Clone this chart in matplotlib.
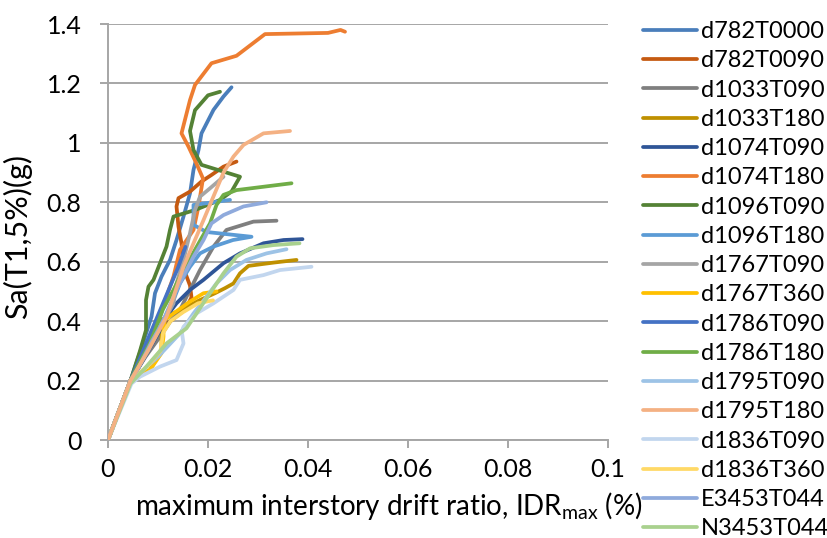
import matplotlib
matplotlib.use("Agg")
import matplotlib.pyplot as plt

plt.rcParams['font.family'] = ['Lato', 'DejaVu Sans']
plt.rcParams['mathtext.fontset'] = 'custom'
plt.rcParams['mathtext.rm'] = 'Lato'
plt.rcParams['mathtext.it'] = 'Lato'

# IDR_max (x) vs Sa(T1,5%) (y) for each record
d782T0000_x = [0, 0.0045, 0.0065, 0.0087, 0.0094, 0.0107, 0.0124, 0.0137, 0.0151, 0.0164, 0.0171, 0.0181, 0.0187, 0.0211, 0.0231, 0.0247]
d782T0000_y = [0, 0.20, 0.30, 0.415, 0.494, 0.55, 0.606, 0.673, 0.752, 0.830, 0.909, 0.976, 1.032, 1.111, 1.156, 1.187]

d782T0090_x = [0, 0.0045, 0.0075, 0.0104, 0.0125, 0.0155, 0.0167, 0.0164, 0.0155, 0.0151, 0.0147, 0.0141, 0.0137, 0.0141, 0.0164, 0.0187, 0.0207, 0.0231, 0.0257]
d782T0090_y = [0, 0.20, 0.30, 0.376, 0.40, 0.44, 0.48, 0.52, 0.56, 0.595, 0.662, 0.718, 0.786, 0.814, 0.836, 0.87, 0.892, 0.920, 0.937]

d1033T090_x = [0, 0.0045, 0.0075, 0.0105, 0.0125, 0.0144, 0.0164, 0.0184, 0.0211, 0.0237, 0.0291, 0.0337]
d1033T090_y = [0, 0.20, 0.28, 0.35, 0.40, 0.438, 0.505, 0.572, 0.651, 0.707, 0.735, 0.738]

d1033T180_x = [0, 0.0045, 0.0084, 0.0107, 0.0107, 0.0124, 0.0151, 0.0184, 0.0214, 0.0234, 0.0251, 0.0264, 0.0281, 0.0331, 0.0377]
d1033T180_y = [0, 0.20, 0.236, 0.303, 0.404, 0.421, 0.443, 0.471, 0.494, 0.511, 0.527, 0.561, 0.586, 0.597, 0.606]

d1074T090_x = [0, 0.0045, 0.006, 0.0097, 0.0127, 0.0137, 0.0164, 0.0191, 0.0231, 0.0264, 0.0311, 0.0351, 0.0389]
d1074T090_y = [0, 0.20, 0.24, 0.348, 0.438, 0.46, 0.505, 0.539, 0.595, 0.628, 0.662, 0.673, 0.676]

d1074T180_x = [0, 0.0045, 0.0065, 0.0085, 0.0104, 0.0117, 0.0131, 0.0144, 0.0171, 0.0181, 0.0190, 0.0177, 0.0161, 0.0147, 0.0164, 0.0174, 0.0207, 0.0257, 0.0314, 0.044, 0.0465, 0.0474]
d1074T180_y = [0, 0.20, 0.28, 0.35, 0.415, 0.482, 0.55, 0.64, 0.707, 0.786, 0.88, 0.93, 0.987, 1.032, 1.144, 1.195, 1.268, 1.293, 1.366, 1.370, 1.380, 1.374]

d1096T090_x = [0, 0.0045, 0.0064, 0.0076, 0.0076, 0.0081, 0.0091, 0.0104, 0.0117, 0.0124, 0.0131, 0.0174, 0.0224, 0.0247, 0.0264, 0.0187, 0.0171, 0.0164, 0.0174, 0.0200, 0.0224]
d1096T090_y = [0, 0.20, 0.30, 0.37, 0.471, 0.516, 0.539, 0.595, 0.651, 0.707, 0.752, 0.774, 0.808, 0.836, 0.886, 0.926, 0.976, 1.04, 1.11, 1.16, 1.172]

d1096T180_x = [0, 0.0045, 0.0080, 0.0131, 0.0144, 0.0164, 0.0184, 0.0211, 0.0250, 0.0287, 0.0197, 0.0171, 0.0171, 0.0244]
d1096T180_y = [0, 0.20, 0.30, 0.471, 0.527, 0.583, 0.628, 0.651, 0.673, 0.684, 0.70, 0.724, 0.791, 0.808]

d1767T090_x = [0, 0.0045, 0.0085, 0.0115, 0.0131, 0.0137, 0.0151, 0.0164, 0.0174, 0.0184, 0.0204, 0.0231]
d1767T090_y = [0, 0.20, 0.32, 0.41, 0.46, 0.527, 0.606, 0.696, 0.774, 0.819, 0.847, 0.886]

d1767T360_x = [0, 0.0045, 0.0084, 0.0107, 0.0111, 0.0111, 0.0114, 0.0131, 0.0164, 0.0191, 0.0217]
d1767T360_y = [0, 0.20, 0.236, 0.292, 0.348, 0.37, 0.404, 0.426, 0.466, 0.494, 0.50]

d1786T090_x = [0, 0.0045, 0.0075, 0.0100, 0.0120, 0.0140, 0.0155]
d1786T090_y = [0, 0.20, 0.32, 0.42, 0.50, 0.58, 0.65]

d1786T180_x = [0, 0.0045, 0.006, 0.0085, 0.011, 0.0131, 0.0144, 0.0174, 0.0187, 0.0204, 0.0217, 0.0231, 0.0257, 0.0367]
d1786T180_y = [0, 0.20, 0.25, 0.33, 0.44, 0.505, 0.55, 0.640, 0.679, 0.729, 0.791, 0.825, 0.841, 0.864]

d1795T090_x = [0, 0.0045, 0.006, 0.010, 0.0144, 0.0171, 0.0197, 0.0217, 0.0244, 0.0277, 0.0317, 0.0357]
d1795T090_y = [0, 0.20, 0.22, 0.28, 0.359, 0.426, 0.482, 0.527, 0.572, 0.606, 0.628, 0.642]

d1795T180_x = [0, 0.0045, 0.008, 0.0117, 0.0131, 0.0151, 0.0171, 0.0191, 0.0211, 0.0231, 0.0251, 0.0271, 0.0311, 0.0364]
d1795T180_y = [0, 0.20, 0.30, 0.415, 0.482, 0.583, 0.662, 0.74, 0.82, 0.90, 0.954, 0.993, 1.032, 1.040]

d1836T090_x = [0, 0.0047, 0.0064, 0.0104, 0.0137, 0.0151, 0.0148, 0.0151, 0.0177, 0.0211, 0.0251, 0.0264, 0.0311, 0.0344, 0.0407]
d1836T090_y = [0, 0.19, 0.213, 0.247, 0.269, 0.325, 0.36, 0.381, 0.426, 0.46, 0.505, 0.539, 0.555, 0.572, 0.583]

d1836T360_x = [0, 0.0045, 0.008, 0.0105, 0.011, 0.0125, 0.015, 0.018, 0.021]
d1836T360_y = [0, 0.20, 0.25, 0.30, 0.36, 0.40, 0.43, 0.46, 0.47]

E3453T044_x = [0, 0.0045, 0.006, 0.0087, 0.0097, 0.011, 0.0137, 0.0157, 0.0171, 0.0191, 0.0207, 0.0231, 0.0271, 0.0317]
E3453T044_y = [0, 0.20, 0.24, 0.33, 0.36, 0.40, 0.505, 0.572, 0.617, 0.673, 0.729, 0.757, 0.786, 0.800]

N3453T044_x = [0, 0.0045, 0.0071, 0.0117, 0.0157, 0.0177, 0.0204, 0.0231, 0.0257, 0.0284, 0.0331, 0.0383]
N3453T044_y = [0, 0.19, 0.236, 0.325, 0.376, 0.426, 0.494, 0.561, 0.617, 0.645, 0.656, 0.662]

records = [
    ('d782T0000', d782T0000_x, d782T0000_y),
    ('d782T0090', d782T0090_x, d782T0090_y),
    ('d1033T090', d1033T090_x, d1033T090_y),
    ('d1033T180', d1033T180_x, d1033T180_y),
    ('d1074T090', d1074T090_x, d1074T090_y),
    ('d1074T180', d1074T180_x, d1074T180_y),
    ('d1096T090', d1096T090_x, d1096T090_y),
    ('d1096T180', d1096T180_x, d1096T180_y),
    ('d1767T090', d1767T090_x, d1767T090_y),
    ('d1767T360', d1767T360_x, d1767T360_y),
    ('d1786T090', d1786T090_x, d1786T090_y),
    ('d1786T180', d1786T180_x, d1786T180_y),
    ('d1795T090', d1795T090_x, d1795T090_y),
    ('d1795T180', d1795T180_x, d1795T180_y),
    ('d1836T090', d1836T090_x, d1836T090_y),
    ('d1836T360', d1836T360_x, d1836T360_y),
    ('E3453T044', E3453T044_x, E3453T044_y),
    ('N3453T044', N3453T044_x, N3453T044_y),
]

colors = ['#4A7EBB', '#C55A11', '#7F7F7F', '#BF9000', '#2F5597', '#ED7D31',
          '#548235', '#5B9BD5', '#A5A5A5', '#FFC000', '#4472C4', '#70AD47',
          '#9DC3E6', '#F4B183', '#C2D6EE', '#FFD966', '#8FAADC', '#A9D18E']

fig = plt.figure(figsize=(8.28, 5.38), dpi=100)
ax = fig.add_axes([108 / 828, 1 - 440 / 538, 500 / 828, 416 / 538])

for (name, xs, ys), c in zip(records, colors):
    # the d1795T180 curve sits on top of the bundle
    z = 3 if name == 'd1795T180' else 2
    ax.plot(xs, ys, color=c, lw=2.7, label=name, zorder=z,
            solid_joinstyle='round', solid_capstyle='round')

ax.set_xlim(0, 0.1)
ax.set_ylim(0, 1.4)
ax.set_xticks([0, 0.02, 0.04, 0.06, 0.08, 0.1])
ax.set_xticklabels(['0', '0.02', '0.04', '0.06', '0.08', '0.1'])
ax.set_yticks([0, 0.2, 0.4, 0.6, 0.8, 1.0, 1.2, 1.4])
ax.set_yticklabels(['0', '0.2', '0.4', '0.6', '0.8', '1', '1.2', '1.4'])

ax.yaxis.grid(True, color='#A6A6A6', lw=1.4)
ax.set_axisbelow(True)
for s in ['top', 'right']:
    ax.spines[s].set_visible(False)
for s in ['left', 'bottom']:
    ax.spines[s].set_color('#A6A6A6')
    ax.spines[s].set_linewidth(1.4)
ax.tick_params(axis='both', colors='#A6A6A6', labelcolor='black', labelsize=18, length=6, width=1.4)
ax.tick_params(axis='x', pad=7)
ax.tick_params(axis='y', pad=13)

ax.set_xlabel(r'maximum interstory drift ratio, IDR$_{\mathrm{max}}$ (%)', fontsize=20)
ax.xaxis.label.set_va('center')
ax.xaxis.set_label_coords(0.562, -0.158)
ax.set_ylabel('Sa(T1,5%)(g)', fontsize=22)
ax.yaxis.label.set_va('center')
ax.yaxis.set_label_coords(-0.18, 0.49)

fig.legend(loc='upper left', bbox_to_anchor=(643 / 828, 1 - 21 / 538), frameon=False,
           fontsize=17, handlelength=2.3, handletextpad=0.15, labelspacing=0.35,
           borderaxespad=0, borderpad=0)

fig.savefig('out.png', dpi=100)
